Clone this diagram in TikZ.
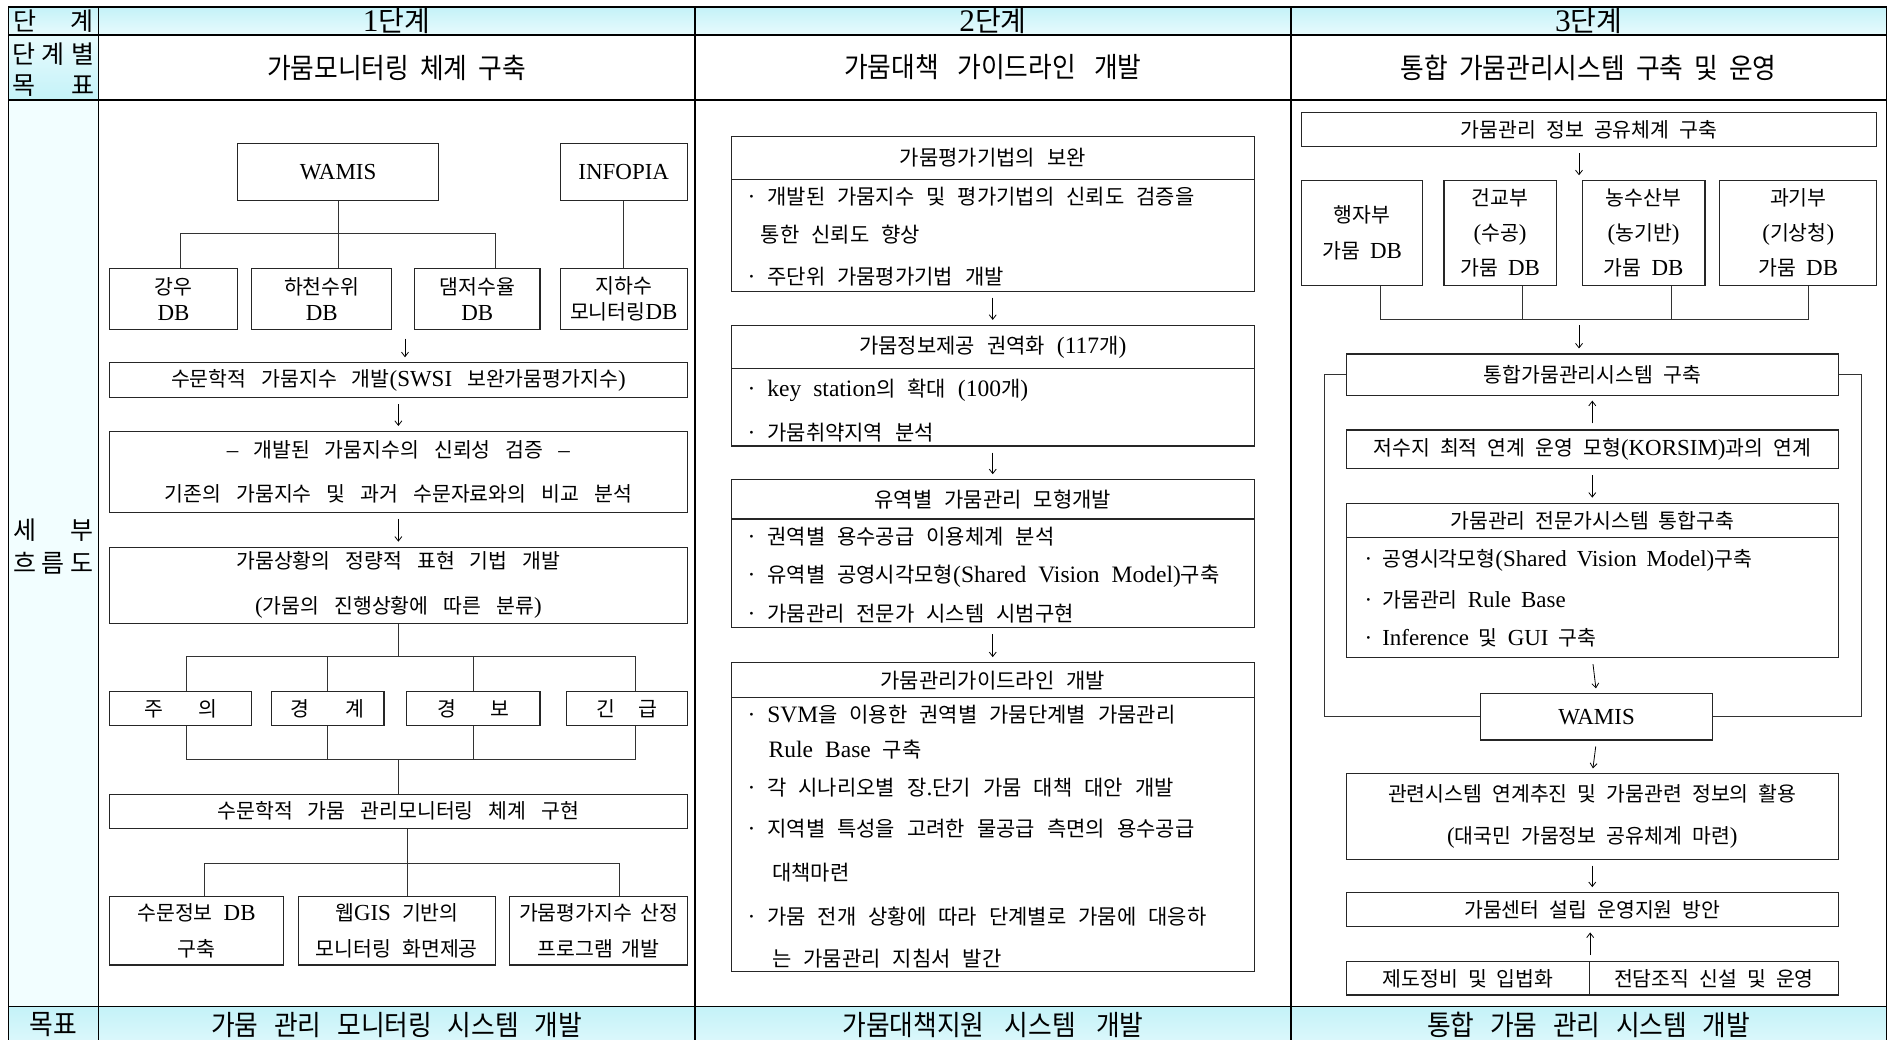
\documentclass[tikz,border=0pt]{standalone}
\usepackage{fontspec}
\usepackage{graphicx}
\usetikzlibrary{fit,arrows.meta}
\setmainfont{Liberation Serif}[Scale=1.12]
\newfontfamily\hangulfont{Noto Sans CJK KR}
\newcount\hgcnt
\XeTeXinterchartokenstate=1
\newXeTeXintercharclass\HangulClass
\hgcnt="AC00
\loop
  \XeTeXcharclass\hgcnt=\HangulClass
  \ifnum\hgcnt<"D7A3
  \advance\hgcnt by 1
\repeat
\XeTeXinterchartoks 0 \HangulClass = {\hangulfont}
\XeTeXinterchartoks 4095 \HangulClass = {\hangulfont}
\XeTeXinterchartoks \HangulClass 0 = {\rmfamily}
\XeTeXinterchartoks \HangulClass 4095 = {\rmfamily}

\definecolor{cyA}{HTML}{C4F2F8}
\definecolor{cyB}{HTML}{E8FBFD}
\definecolor{cyC}{HTML}{CCFBFE}
\definecolor{cyD}{HTML}{F2FEFF}
% size, baselineskip, interword space
\newcommand\fz[3]{\fontsize{#1}{#2}\selectfont\spaceskip=#3pt plus 1pt minus 1pt\relax}
\newcommand\fsA{\fz{20.5}{26.6}{15}}
\newcommand\fsB{\fz{21}{26.6}{12}}
\newcommand\fsC{\fz{20.5}{26.6}{10}}
\newcommand\fsN{\fz{28}{30}{8}}
\newcommand\fsH{\fz{28}{30}{12}}
\newcommand\fsG{\fz{28}{30}{17}}
\newcommand\hs[1]{\scalebox{0.92}[1]{#1}}
\newcommand\bxn[5][]{\node[bx,fit={(#3) (#4)}] (#2) {};
  \node[lbl,font=\fsB,#1] (#2t) at (#2.center) {#5};}
\newcommand\tln[5][]{\node[txt,#1] (#2) at (#3,#4) {#5};}

\tikzset{
  bx/.style={draw=black!85, line width=1.1pt, inner sep=0pt},
  cell/.style={draw=black, line width=1.3pt, inner sep=0pt},
  ln/.style={draw=black!80, line width=1pt},
  arr/.style={draw=black, line width=0.8pt, -{Straight Barb[length=4.5pt,width=7pt]}, shorten <=6pt, shorten >=5pt},
  txt/.style={inner sep=0pt, anchor=west, font=\fsB, yshift=-1.5pt},
  lbl/.style={inner sep=0pt, align=center},
}

\begin{document}
\begin{tikzpicture}[x=1.2054pt,y=-1.2054pt]
\useasboundingbox (0,0) rectangle (1568,862);
\clip (0,0) rectangle (1568,862);
\fill[white] (0,0) rectangle (1568,862);

% ---------- table ----------
\node[cell, top color=cyA, bottom color=cyB, fit={(7,5.8) (81.5,29)}] (h0) {};
\node[cell, top color=cyA, bottom color=cyB, fit={(81.5,5.8) (576.5,29)}] (h1) {};
\node[cell, top color=cyA, bottom color=cyB, fit={(576.5,5.8) (1071,29)}] (h2) {};
\node[cell, top color=cyA, bottom color=cyB, fit={(1071,5.8) (1565,29)}] (h3) {};
\node[lbl, font=\fz{25}{30}{8}] (h0t) at (h0.center) {\makebox[80pt][s]{단\hfill 계}};
\node[lbl, font=\fsN] (h1t) at (h1.center) {1단계};
\node[lbl, font=\fsN] (h2t) at (h2.center) {2단계};
\node[lbl, font=\fsN] (h3t) at (h3.center) {3단계};

\node[cell, top color=cyB, bottom color=cyA, fit={(7,29) (81.5,83)}] (g0) {};
\node[cell, fit={(81.5,29) (576.5,83)}] (g1) {};
\node[cell, fit={(576.5,29) (1071,83)}] (g2) {};
\node[cell, fit={(1071,29) (1565,83)}] (g3) {};
\node[lbl, font=\fz{25}{31}{8}] (g0t) at (44.25,58) {\makebox[82pt][s]{단\hfill 계\hfill 별}\\ \makebox[82pt][s]{목\hfill 표}};
\node[lbl, font=\fsH] (g1t) at (g1.center) {\hs{가뭄모니터링 체계 구축}};
\node[lbl, font=\fz{28}{30}{20}] (g2t) at (g2.center) {\hs{가뭄대책 가이드라인 개발}};
\node[lbl, font=\fsH] (g3t) at (g3.center) {\hs{통합 가뭄관리시스템 구축 및 운영}};

\node[cell, top color=cyD, middle color=cyC, bottom color=cyD, fit={(7,83) (81.5,835)}] (f0) {};
\node[cell, fit={(81.5,83) (576.5,835)}] (f1) {};
\node[cell, fit={(576.5,83) (1071,835)}] (f2) {};
\node[cell, fit={(1071,83) (1565,835)}] (f3) {};
\node[lbl, font=\fz{25}{33}{8}] (f0t) at (44.25,453.5) {\makebox[80pt][s]{세\hfill 부}\\ \makebox[80pt][s]{흐\hfill 름\hfill 도}};

\node[cell, top color=cyA, bottom color=cyB, fit={(7,835) (81.5,880)}] (o0) {};
\node[cell, top color=cyA, bottom color=cyB, fit={(81.5,835) (576.5,880)}] (o1) {};
\node[cell, top color=cyA, bottom color=cyB, fit={(576.5,835) (1071,880)}] (o2) {};
\node[cell, top color=cyA, bottom color=cyB, fit={(1071,835) (1565,880)}] (o3) {};
\node[lbl, font=\fsG] (o0t) at (44.25,850) {\hs{목표}};
\node[lbl, font=\fsG] (o1t) at (329,850) {\hs{가뭄 관리 모니터링 시스템 개발}};
\node[lbl, font=\fz{28}{30}{22}] (o2t) at (823.75,850) {\hs{가뭄대책지원 시스템 개발}};
\node[lbl, font=\fsG] (o3t) at (1318,850) {\hs{통합 가뭄 관리 시스템 개발}};

% ---------- column 1 ----------
\bxn[font=\fsA]{wamisA}{197,119}{364,166}{WAMIS}
\bxn[font=\fsA]{infopia}{465,119}{570,166}{INFOPIA}
\bxn[font=\fsA]{db1}{91,223}{197,273}{강우\\DB}
\bxn[font=\fsA]{db2}{209,223}{325,273}{하천수위\\DB}
\bxn[font=\fsA]{db3}{344,223}{448,273}{댐저수율\\DB}
\bxn[font=\fsA]{db4}{465,223}{570,273}{지하수\\모니터링DB}
\coordinate (j1L) at (150,194);
\coordinate (j1R) at (411,194);
\draw[ln] (wamisA.south) -- (wamisA.south |- db2.north);
\draw[ln] (db1.north -| j1L) -- (j1L) -- (j1R) -- (db3.north -| j1R);
\draw[ln] (infopia.south) -- (db4.north);

\bxn[font=\fsA]{swsi}{91,301}{570,330}{수문학적 가뭄지수 개발(SWSI 보완가뭄평가지수)}
\coordinate (a1) at (336,281);
\draw[arr, shorten <=0pt] (a1) -- (swsi.north -| a1);
\bxn[font=\fz{20.5}{43.4}{15}]{verify}{91,358}{570,425}{– 개발된 가뭄지수의 신뢰성 검증 –\\기존의 가뭄지수 및 과거 수문자료와의 비교 분석}
\draw[arr] (swsi.south) -- (verify.north);
\bxn[font=\fz{20.5}{45}{15}]{quant}{91,454}{570,517}{가뭄상황의 정량적 표현 기법 개발\\(가뭄의 진행상황에 따른 분류)}
\draw[arr] (verify.south) -- (quant.north);

\bxn[font=\fsA]{c1}{91,574}{209,602}{주\hspace{1.5em}의}
\bxn[font=\fsA]{c2}{225,574}{318.6,602}{경\hspace{1.6em}계}
\bxn[font=\fsA]{c3}{337,574}{448,602}{경\hspace{1.5em}보}
\bxn[font=\fsA]{c4}{470,574}{570,602}{긴\hspace{1em}급}
\coordinate (j2a) at (155,545);
\coordinate (j2d) at (527,545);
\draw[ln] (quant.south) -- (quant.south |- j2a);
\draw[ln] (c1.north -| j2a) -- (j2a) -- (j2d) -- (c4.north -| j2d);
\draw[ln] (c2.north) -- (c2.north |- j2a);
\draw[ln] (c3.north) -- (c3.north |- j2a);

\bxn[font=\fsA]{mon}{91,659}{570,687}{수문학적 가뭄 관리모니터링 체계 구현}
\coordinate (j3a) at (155,630.5);
\coordinate (j3d) at (527,630.5);
\draw[ln] (c1.south -| j3a) -- (j3a) -- (j3d) -- (c4.south -| j3d);
\draw[ln] (c2.south) -- (c2.south |- j3a);
\draw[ln] (c3.south) -- (c3.south |- j3a);
\draw[ln] (mon.north) -- (mon.north |- j3a);

\bxn[font=\fz{20.5}{36.6}{11}]{b1}{91,744}{235,800.6}{수문정보 DB\\구축}
\bxn[font=\fz{20.5}{36.6}{11}]{b2}{247.5,744}{411,800.6}{웹GIS 기반의\\모니터링 화면제공}
\bxn[font=\fz{20.5}{36.6}{8}]{b3}{423,744}{570,800.6}{가뭄평가지수 산정\\프로그램 개발}
\coordinate (j4a) at (170,716);
\coordinate (j4m) at (338,716);
\coordinate (j4c) at (514,716);
\draw[ln] (mon.south -| j4m) -- (j4m) -- (b2.north -| j4m);
\draw[ln] (b1.north -| j4a) -- (j4a) -- (j4c) -- (b3.north -| j4c);

% ---------- column 2 ----------
\bxn{At}{606.5,113}{1040.7,149}{가뭄평가기법의 보완}
\bxn{Ab}{606.5,149}{1040.7,241.5}{}
\tln{A1}{620}{162}{· 개발된 가뭄지수 및 평가기법의 신뢰도 검증을}
\tln{A2}{631}{193.5}{통한 신뢰도 향상}
\tln{A3}{620}{228}{· 주단위 가뭄평가기법 개발}

\bxn{Bt}{606.5,270}{1040.7,306}{가뭄정보제공 권역화 (117개)}
\bxn{Bb}{606.5,306}{1040.7,370}{}
\tln{B1}{620}{322.5}{· key station의 확대 (100개)}
\tln{B2}{620}{358}{· 가뭄취약지역 분석}
\draw[arr] (Ab.south) -- (Bt.north);

\bxn{Ct}{606.5,398}{1040.7,430.6}{유역별 가뭄관리 모형개발}
\bxn{Cb}{606.5,430.6}{1040.7,520.7}{}
\tln{C1}{620}{444}{· 권역별 용수공급 이용체계 분석}
\tln{C2}{620}{477}{· 유역별 공영시각모형(Shared Vision Model)구축}
\tln{C3}{620}{507.5}{· 가뭄관리 전문가 시스템 시범구현}
\draw[arr] (Bb.south) -- (Ct.north);

\bxn{Dt}{606.5,549.8}{1040.7,579}{가뭄관리가이드라인 개발}
\bxn{Db}{606.5,579}{1040.7,806}{}
\tln{D1}{620}{591.8}{· SVM을 이용한 권역별 가뭄단계별 가뭄관리}
\tln{D2}{637.6}{620.7}{Rule Base 구축}
\tln{D3}{620}{652.6}{· 각 시나리오별 장.단기 가뭄 대책 대안 개발}
\tln{D4}{620}{685.8}{· 지역별 특성을 고려한 물공급 측면의 용수공급}
\tln{D5}{640.5}{723}{대책마련}
\tln{D6}{620}{759}{· 가뭄 전개 상황에 따라 단계별로 가뭄에 대응하}
\tln{D7}{640.5}{793.7}{는 가뭄관리 지침서 발간}
\draw[arr] (Cb.south) -- (Dt.north);

% ---------- column 3 ----------
\bxn[font=\fsC]{info}{1079.7,93.5}{1557,121.7}{가뭄관리 정보 공유체계 구축}
\bxn[font=\fz{20.5}{36.4}{10}]{m1}{1079.7,150}{1180.4,236.7}{행자부\\가뭄 DB}
\bxn[font=\fz{20.5}{35}{10}]{m2}{1198,150}{1291,236.7}{건교부\\(수공)\\가뭄 DB}
\bxn[font=\fz{20.5}{35}{10}]{m3}{1312.6,150}{1414.5,236.7}{농수산부\\(농기반)\\가뭄 DB}
\bxn[font=\fz{20.5}{35}{10}]{m4}{1426.8,150}{1557,236.7}{과기부\\(기상청)\\가뭄 DB}
\coordinate (c3x) at (1310,0);
\draw[arr] (info.south -| c3x) -- (m3.north -| c3x);
\coordinate (k1) at (1145.4,264.7);
\coordinate (k2) at (1263.5,264.7);
\coordinate (k3) at (1387,264.7);
\coordinate (k4) at (1500.4,264.7);
\draw[ln] (m1.south -| k1) -- (k1) -- (k4) -- (m4.south -| k4);
\draw[ln] (m2.south -| k2) -- (k2);
\draw[ln] (m3.south -| k3) -- (k3);

\bxn[font=\fsC]{sys}{1117,293.7}{1525,327.8}{통합가뭄관리시스템 구축}
\draw[arr] (c3x |- k1) -- (c3x |- sys.north);
\bxn[font=\fz{20.5}{26.6}{10}]{korsim}{1117,356.7}{1525,389}{저수지 최적 연계 운영 모형(KORSIM)과의 연계}
\draw[arr] (korsim.north) -- (sys.south);
\bxn[font=\fsC]{Et}{1117,417.5}{1525,445.8}{가뭄관리 전문가시스템 통합구축}
\bxn{Eb}{1117,445.8}{1525,545.6}{}
\draw[arr] (korsim.south) -- (Et.north);
\tln[font=\fsC]{E1}{1132}{463.8}{· 공영시각모형(Shared Vision Model)구축}
\tln[font=\fsC]{E2}{1132}{496}{· 가뭄관리 Rule Base}
\tln[font=\fsC]{E3}{1132}{528}{· Inference 및 GUI 구축}

\bxn[font=\fsC]{wamisB}{1228,575.7}{1421,613.9}{WAMIS}
\draw[arr] (Eb.south) -- (wamisB.north);
\coordinate (lpL) at (1098.7,0);
\coordinate (lpR) at (1544,0);
\draw[ln] (sys.west) -- (sys.west -| lpL) -- (wamisB.west -| lpL) -- (wamisB.west);
\draw[ln] (sys.east) -- (sys.east -| lpR) -- (wamisB.east -| lpR) -- (wamisB.east);

\bxn[font=\fz{20.5}{42}{10}]{rel}{1117,642}{1525,712.7}{관련시스템 연계추진 및 가뭄관련 정보의 활용\\(대국민 가뭄정보 공유체계 마련)}
\draw[arr] (wamisB.south) -- (rel.north);
\bxn[font=\fsC]{ctr}{1117,740.6}{1525,769}{가뭄센터 설립 운영지원 방안}
\draw[arr] (rel.south) -- (ctr.north);
\bxn[font=\fsC]{s1}{1117,797.8}{1318.8,825.5}{제도정비 및 입법화}
\bxn[font=\fsC]{s2}{1318.8,797.8}{1525,825.5}{전담조직 신설 및 운영}
\draw[arr] (s1.north east) -- (s1.north east |- ctr.south);
\end{tikzpicture}
\end{document}
